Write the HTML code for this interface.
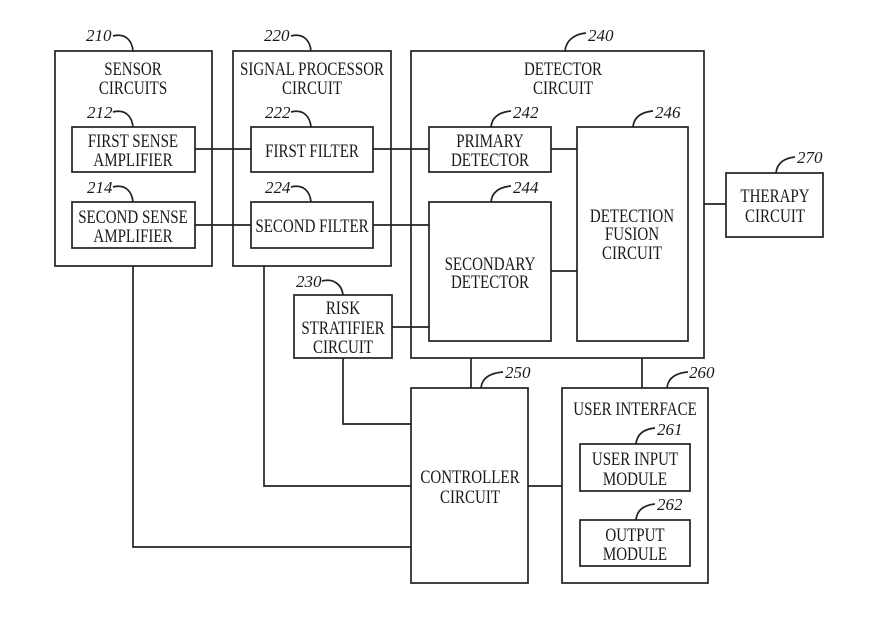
<!DOCTYPE html>
<html><head><meta charset="utf-8"><style>
html,body{margin:0;padding:0;background:#fff;}
svg{display:block;}
.t{font-family:"Liberation Serif",serif;font-size:19px;fill:#1a1a1a;text-anchor:middle;}
.r{font-family:"Liberation Serif",serif;font-size:17px;font-style:italic;fill:#1a1a1a;}
.b{fill:none;stroke:#222;stroke-width:1.7;}
</style></head><body>
<svg width="872" height="627" viewBox="0 0 872 627" xmlns="http://www.w3.org/2000/svg">
<g class="b">
<rect x="55" y="51" width="157" height="215"/>
<rect x="233" y="51" width="158" height="215"/>
<rect x="72" y="127" width="123" height="45"/>
<rect x="72" y="202" width="123" height="46"/>
<rect x="251" y="127" width="122" height="45"/>
<rect x="251" y="202" width="122" height="46"/>
<rect x="411" y="51" width="293" height="307"/>
<rect x="429" y="127" width="122" height="45"/>
<rect x="429" y="202" width="122" height="139"/>
<rect x="577" y="127" width="111" height="214"/>
<rect x="726" y="173" width="97" height="64"/>
<rect x="294" y="295" width="98" height="63"/>
<rect x="411" y="388" width="117" height="195"/>
<rect x="562" y="388" width="146" height="195"/>
<rect x="580" y="444" width="110" height="47"/>
<rect x="580" y="520" width="110" height="46"/>
<!-- connectors -->
<path d="M195,149H251M373,149H429M195,225H251M373,225H429M551,149H577M551,271H577M704,204H726M392,327H429"/>
<path d="M471,358V388M642,358V388M343,358V424H411M264,266V486H411M528,486H562M133,266V547H411"/>
<!-- leaders -->
<path d="M113,36C125,33 132,40 133,51"/>
<path d="M291,36C303,33 310,40 311,51"/>
<path d="M113,112C125,109 132,116 133,127"/>
<path d="M113,187C125,184 132,191 133,202"/>
<path d="M291,112C303,109 310,116 311,127"/>
<path d="M291,187C303,184 310,191 311,202"/>
<path d="M565,51C566,40 575,34 586,33"/>
<path d="M491,127C492,116 501,112 511,111"/>
<path d="M491,202C492,191 501,187 511,186"/>
<path d="M633,127C634,116 643,112 653,111"/>
<path d="M776,173C777,162 786,158 795,157"/>
<path d="M322,281C334,278 342,285 343,295"/>
<path d="M481,388C482,377 491,373 503,372"/>
<path d="M667,388C668,377 677,373 688,372"/>
<path d="M636,444C637,433 645,429 655,428"/>
<path d="M636,520C637,509 645,505 655,504"/>
</g>
<g class="r">
<text x="86" y="41">210</text>
<text x="264" y="41">220</text>
<text x="87" y="118">212</text>
<text x="87" y="193">214</text>
<text x="265" y="118">222</text>
<text x="265" y="193">224</text>
<text x="588" y="41">240</text>
<text x="513" y="118">242</text>
<text x="513" y="193">244</text>
<text x="655" y="118">246</text>
<text x="797" y="163">270</text>
<text x="296" y="287">230</text>
<text x="505" y="378">250</text>
<text x="689" y="378">260</text>
<text x="657" y="435">261</text>
<text x="657" y="510">262</text>
</g>
<g class="t">
<text transform="translate(133,75) scale(.79,1)">SENSOR</text>
<text transform="translate(133,94) scale(.79,1)">CIRCUITS</text>
<text transform="translate(312,75) scale(.79,1)">SIGNAL PROCESSOR</text>
<text transform="translate(312,94) scale(.79,1)">CIRCUIT</text>
<text transform="translate(133,147) scale(.79,1)">FIRST SENSE</text>
<text transform="translate(133,166) scale(.79,1)">AMPLIFIER</text>
<text transform="translate(133,223) scale(.79,1)">SECOND SENSE</text>
<text transform="translate(133,242) scale(.79,1)">AMPLIFIER</text>
<text transform="translate(312,157) scale(.79,1)">FIRST FILTER</text>
<text transform="translate(312,232) scale(.79,1)">SECOND FILTER</text>
<text transform="translate(563,75) scale(.79,1)">DETECTOR</text>
<text transform="translate(563,94) scale(.79,1)">CIRCUIT</text>
<text transform="translate(490,147) scale(.79,1)">PRIMARY</text>
<text transform="translate(490,166) scale(.79,1)">DETECTOR</text>
<text transform="translate(490,270) scale(.79,1)">SECONDARY</text>
<text transform="translate(490,288) scale(.79,1)">DETECTOR</text>
<text transform="translate(632,222) scale(.79,1)">DETECTION</text>
<text transform="translate(632,240) scale(.79,1)">FUSION</text>
<text transform="translate(632,259) scale(.79,1)">CIRCUIT</text>
<text transform="translate(775,202) scale(.79,1)">THERAPY</text>
<text transform="translate(775,222) scale(.79,1)">CIRCUIT</text>
<text transform="translate(343,314) scale(.79,1)">RISK</text>
<text transform="translate(343,334) scale(.79,1)">STRATIFIER</text>
<text transform="translate(343,353) scale(.79,1)">CIRCUIT</text>
<text transform="translate(470,483) scale(.79,1)">CONTROLLER</text>
<text transform="translate(470,503) scale(.79,1)">CIRCUIT</text>
<text transform="translate(635,415) scale(.79,1)">USER INTERFACE</text>
<text transform="translate(635,465) scale(.79,1)">USER INPUT</text>
<text transform="translate(635,485) scale(.79,1)">MODULE</text>
<text transform="translate(635,541) scale(.79,1)">OUTPUT</text>
<text transform="translate(635,560) scale(.79,1)">MODULE</text>
</g>
</svg>
</body></html>
